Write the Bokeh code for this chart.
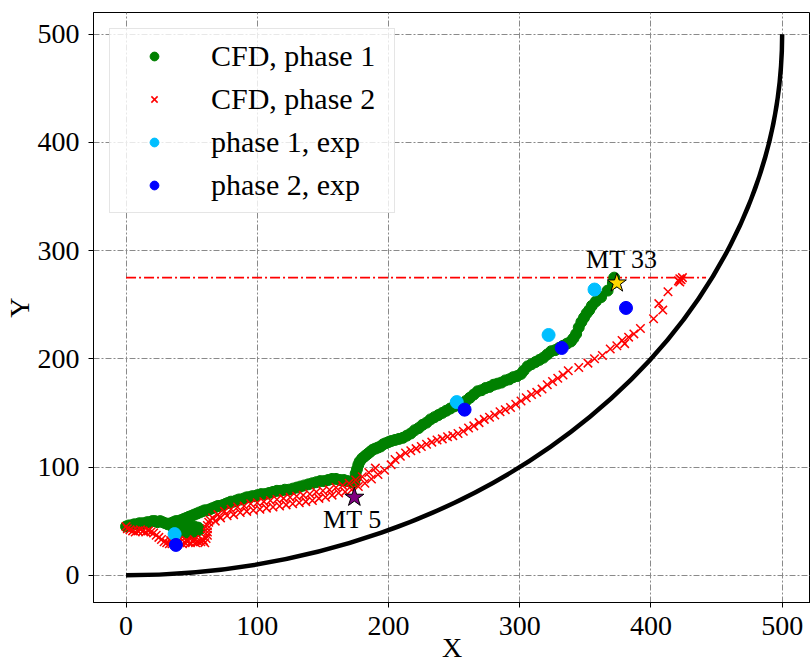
from bokeh.plotting import figure
from bokeh.models import Range1d, FixedTicker
from bokeh.core.properties import value
from bokeh.embed import file_html
from bokeh.resources import INLINE

# --- CFD trajectory, phase 1 (x, y) ---
cfd1_x = [0, 2, 4, 6, 8, 10, 12, 14, 16, 18, 20, 22, 24, 26, 28, 30, 32, 34,
          36, 38, 40, 42, 44, 46, 48, 50, 52, 54, 56, 55, 52, 48, 44, 40,
          36, 38, 40, 42, 44, 46, 48, 50, 52, 54, 56, 58, 60, 62, 64, 66, 68, 70,
          72, 74, 76, 78, 80, 82, 84, 86, 88, 90, 92, 94, 96, 98, 100, 103, 106,
          109, 112, 115, 118, 121, 124, 127, 130, 133, 136, 139, 142, 145, 148,
          151, 154, 157, 160, 163, 166, 169, 172, 174,
          175, 175, 176, 177, 178, 180, 182, 184, 186, 188, 190, 192, 194, 196,
          198, 200, 202, 205, 208, 211, 214, 217, 220, 223, 226, 229, 232, 235,
          238, 241, 244, 247, 250, 253, 256, 259, 262, 265, 268, 271, 274, 277,
          280, 283, 286, 289, 292, 295, 298, 301, 303, 306, 309, 312, 315, 318,
          321, 324, 327, 330, 333, 336, 339, 341, 343, 345, 347, 349, 351, 353,
          355, 358, 362, 367, 371, 372]
cfd1_y = [45, 46, 46, 47, 47, 48, 48, 48, 49, 49, 50, 50, 49, 50, 49, 48, 47, 48,
          44, 42, 41, 40, 40, 39, 39, 39, 40, 41, 42, 44, 45, 46, 46, 46,
          49, 50, 50, 51, 52, 53, 54, 55, 56, 57, 58, 59, 60, 60, 61, 62, 63, 64,
          64, 65, 66, 67, 68, 68, 69, 70, 70, 71, 72, 72, 73, 73, 74, 75, 75,
          76, 77, 78, 78, 79, 79, 80, 81, 82, 83, 84, 85, 86, 87,
          87, 88, 89, 89, 88, 88, 87, 86, 86,
          90, 94, 98, 102, 105, 108, 110, 112, 114, 116, 117, 118, 119, 121,
          122, 123, 124, 125, 126, 127, 129, 131, 134, 136, 139, 141, 144, 146,
          148, 150, 152, 154, 156, 157, 158, 161, 164, 167, 170, 171, 173, 174,
          176, 177, 178, 180, 181, 183, 184, 186, 189, 193, 195, 197, 199, 201,
          204, 207, 208, 210, 212, 214, 216, 219, 223, 229, 234, 238, 242, 245,
          249, 253, 257, 263, 270, 275]

# --- CFD trajectory, phase 2 (x, y) ---
cfd2_x = [0, 1, 3, 5, 7, 9, 11, 13, 15, 17, 19, 21, 23, 25, 27, 29,
          31, 33, 35, 37, 39, 41, 43, 45, 47, 49, 51, 53, 55, 57, 59, 60,
          34, 40, 46, 52, 58,
          61, 62, 62, 62, 62, 63, 64,
          66, 70, 75, 80, 85, 90, 95, 100, 105, 110, 115, 120, 125, 130, 135,
          140, 145, 150, 155, 160, 165, 170, 175, 180, 185, 190,
          68, 72, 77, 82, 87, 92, 97, 102, 107, 112, 117, 122, 127, 132, 137,
          142, 147, 152, 157, 162, 167, 172, 177, 182, 187, 192, 197, 202,
          205, 209, 213, 217, 221, 225, 229, 233, 237, 241, 245, 249, 253, 257,
          261, 265, 269, 273, 277, 281, 285, 289, 293, 297, 301, 305, 309, 313,
          317, 321, 325, 329, 333, 337,
          345, 352, 357, 363, 369, 374, 378, 380, 383, 387, 392, 402, 406, 409,
          413, 421, 422, 423, 424, 422]
cfd2_y = [45, 43, 42, 41, 40, 41, 42, 41, 40, 41, 40, 39, 37, 35, 33, 31,
          30, 29, 29, 30, 29, 30, 29, 30, 31, 30, 31, 30, 31, 31, 32, 30,
          32, 32, 32, 33, 33,
          34, 37, 40, 43, 46, 49, 51,
          53, 56, 59, 61, 63, 64, 66, 67, 68, 69, 70, 71, 72, 73, 74,
          75, 77, 78, 79, 81, 83, 85, 88, 91, 95, 99,
          50, 53, 55, 56, 58, 59, 60, 61, 62, 63, 64, 65, 66, 67, 68,
          69, 71, 72, 74, 76, 77, 79, 82, 85, 89, 93, 97, 102,
          107, 110, 113, 115, 117, 119, 121, 123, 125, 126, 128, 129, 131, 133,
          136, 138, 141, 144, 146, 148, 151, 153, 155, 158, 161, 164, 167, 169,
          172, 176, 179, 182, 185, 189,
          192, 196, 200, 203, 209, 212, 217, 214, 220, 223, 228, 237, 251, 245,
          262, 272, 274, 273, 275, 271]

# --- experimental positions ---
exp1_x = [37, 252, 322, 357]
exp1_y = [38, 160, 222, 264]
exp2_x = [38, 258, 332, 381]
exp2_y = [28, 153, 210, 247]

# --- marked time steps ---
mt_labels = ["MT 5", "MT 33"]
mt_x = [174, 374]
mt_y = [72, 270]
mt_colors = ["purple", "gold"]

# --- reference level and wall arc (quarter circle as a cubic Bezier) ---
level_y = 275
level_x = [0, 442]
wall_r = 500
kappa = 0.5523

ticks = [0, 100, 200, 300, 400, 500]
FONT = "Liberation Serif"

p = figure(width=810, height=665,
           x_range=Range1d(-24.8, 521.6), y_range=Range1d(-25.2, 520),
           output_backend="svg", toolbar_location=None,
           min_border_left=93, min_border_right=0,
           min_border_top=12, min_border_bottom=63)

p.outline_line_color = "black"
p.outline_line_width = 1
p.background_fill_color = "white"

for ax in (p.xaxis, p.yaxis):
    ax.ticker = FixedTicker(ticks=ticks)
    ax.minor_tick_line_color = None
    ax.major_tick_out = 5
    ax.major_tick_in = 0
    ax.major_tick_line_color = "black"
    ax.axis_line_color = "black"
    ax.major_label_text_font = FONT
    ax.major_label_text_font_size = "28px"
    ax.major_label_text_color = "black"
    ax.axis_label_text_font = FONT
    ax.axis_label_text_font_size = "28px"
    ax.axis_label_text_font_style = "normal"
    ax.axis_label_text_color = "black"
p.xaxis.axis_label = "X"
p.yaxis.axis_label = "Y"
p.xaxis.major_label_standoff = 9
p.yaxis.major_label_standoff = 9
p.xaxis.axis_label_standoff = -6
p.yaxis.axis_label_standoff = 0

for g in (p.xgrid, p.ygrid):
    g.ticker = FixedTicker(ticks=ticks)
    g.grid_line_color = "#8a8a8a"
    g.grid_line_width = 1
    g.grid_line_dash = "6 2 2 2"

# wall
p.bezier(x0=[0], y0=[0], x1=[wall_r], y1=[wall_r],
         cx0=[kappa * wall_r], cy0=[0], cx1=[wall_r], cy1=[wall_r - kappa * wall_r],
         line_color="black", line_width=4.5)

# reference level
p.line(x=level_x, y=[level_y, level_y], line_color="red", line_width=1.6,
       line_dash="10 3 2 3")

p.scatter(cfd1_x, cfd1_y, marker="circle", size=11, fill_color="green",
          line_color="green", legend_label="CFD, phase 1")
p.scatter(cfd2_x, cfd2_y, marker="x", size=12, line_color="red", line_width=1.5,
          legend_label="CFD, phase 2")
p.scatter(exp1_x, exp1_y, marker="circle", size=13, fill_color="deepskyblue",
          line_color="deepskyblue", legend_label="phase 1, exp")
p.scatter(exp2_x, exp2_y, marker="circle", size=13, fill_color="blue",
          line_color="blue", legend_label="phase 2, exp")

p.scatter(mt_x, mt_y, marker="star", size=20, fill_color=mt_colors,
          line_color="black", line_width=1)
p.text(x=mt_x, y=mt_y, text=mt_labels, x_offset=[-2, 5], y_offset=[22, -24],
       text_font=value(FONT), text_font_size="26px", text_color="black",
       text_align="center", text_baseline="middle")

leg = p.legend[0]
leg.location = "top_left"
leg.margin = 16
leg.padding = 9
leg.spacing = 7
leg.glyph_width = 70
leg.glyph_height = 22
leg.label_height = 36
leg.label_width = 174
leg.label_standoff = 22
leg.label_text_font = FONT
leg.label_text_font_size = "30px"
leg.label_text_color = "black"
leg.border_line_color = "#cccccc"
leg.border_line_width = 1
leg.background_fill_alpha = 0.8

open("out.html", "w").write(file_html(p, INLINE))
